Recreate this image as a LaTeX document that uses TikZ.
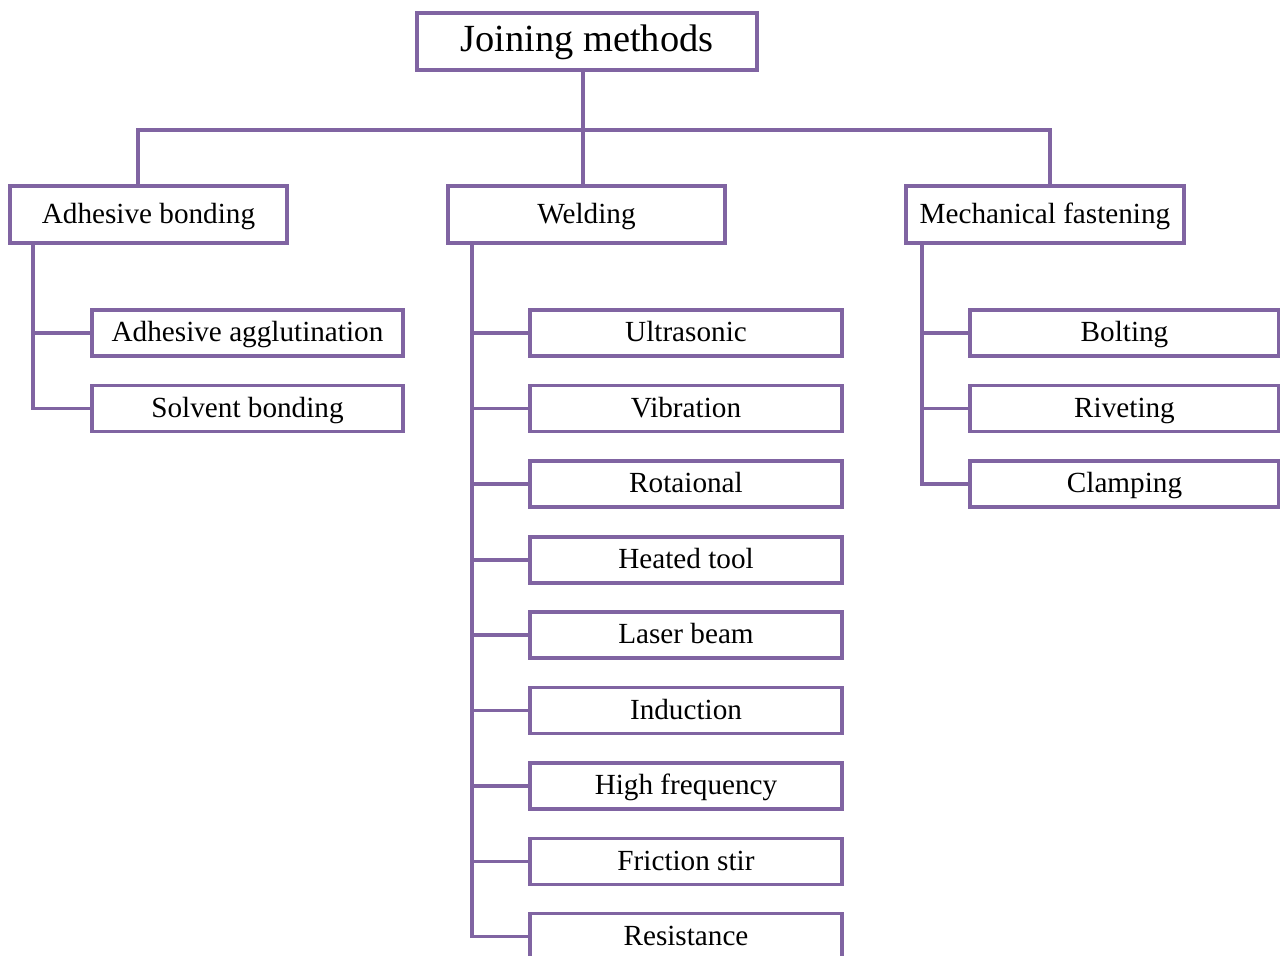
\documentclass[tikz,border=0pt]{standalone}
\usepackage{fontspec}
\setmainfont{Liberation Serif}
\definecolor{linepurple}{HTML}{8064A2}
\tikzset{
  box/.style={draw=linepurple, line width=1.6pt, rectangle, inner sep=0pt, fill=white,
    text height=12pt, text depth=3.3pt, font=\fontsize{14.6}{16}\selectfont},
  topbox/.style={box, minimum width=170pt, minimum height=28.5pt,
    text height=14pt, text depth=3.5pt, font=\fontsize{19.2}{22}\selectfont},
  catbox/.style={box, minimum height=28.5pt},
  leafbox/.style={box, minimum height=23pt},
  conn/.style={draw=linepurple, line width=1.6pt}
}
\begin{document}
\begin{tikzpicture}[x=0.5pt,y=-0.5pt]
\useasboundingbox (0,0) rectangle (1280,956);
\clip (0,0) rectangle (1280,956);
% top
\node[topbox] (root) at (587,41.5) {Joining methods};
% categories
\node[catbox, minimum width=138.5pt] (adh) at (148.5,214.5) {Adhesive bonding};
\node[catbox, minimum width=138.5pt] (weld) at (586.5,214.5) {Welding};
\node[catbox, minimum width=139pt] (mech) at (1045,214.5) {Mechanical fastening};
% adhesive leaves
\node[leafbox, minimum width=155.5pt] (aa) at (247.5,333) {Adhesive agglutination};
\node[leafbox, minimum width=155.5pt] (sb) at (247.5,408.5) {Solvent bonding};
% welding leaves
\node[leafbox, minimum width=156pt] (w1) at (686,333) {Ultrasonic};
\node[leafbox, minimum width=156pt] (w2) at (686,408.5) {Vibration};
\node[leafbox, minimum width=156pt] (w3) at (686,484) {Rotaional};
\node[leafbox, minimum width=156pt] (w4) at (686,560) {Heated tool};
\node[leafbox, minimum width=156pt] (w5) at (686,635) {Laser beam};
\node[leafbox, minimum width=156pt] (w6) at (686,710.5) {Induction};
\node[leafbox, minimum width=156pt] (w7) at (686,786) {High frequency};
\node[leafbox, minimum width=156pt] (w8) at (686,861.5) {Friction stir};
\node[leafbox, minimum width=156pt] (w9) at (686,936.5) {Resistance};
% mechanical leaves
\node[leafbox, minimum width=154.5pt] (m1) at (1124.5,333) {Bolting};
\node[leafbox, minimum width=154.5pt] (m2) at (1124.5,408.5) {Riveting};
\node[leafbox, minimum width=154.5pt] (m3) at (1124.5,484) {Clamping};
% trunk connectors
\coordinate (bar) at (583,130);
\coordinate (adhTop) at (138,186);
\coordinate (mechTop) at (1050,186);
\coordinate (weldTop) at (583,186);
\draw[conn] (root.south -| bar) -- (weldTop);
\draw[conn, line join=miter] (adhTop) |- (bar) -| (mechTop);
% adhesive branch
\coordinate (adhL) at (33,243);
\draw[conn] (adhL) |- (sb.west);
\draw[conn] (adhL |- aa.west) -- (aa.west);
% welding branch
\coordinate (weldL) at (472,243);
\draw[conn] (weldL) |- (w9.west);
\foreach \n in {w1,w2,w3,w4,w5,w6,w7,w8} {
  \draw[conn] (weldL |- \n.west) -- (\n.west);
}
% mechanical branch
\coordinate (mechL) at (922,243);
\draw[conn] (mechL) |- (m3.west);
\draw[conn] (mechL |- m1.west) -- (m1.west);
\draw[conn] (mechL |- m2.west) -- (m2.west);
\end{tikzpicture}
\end{document}
